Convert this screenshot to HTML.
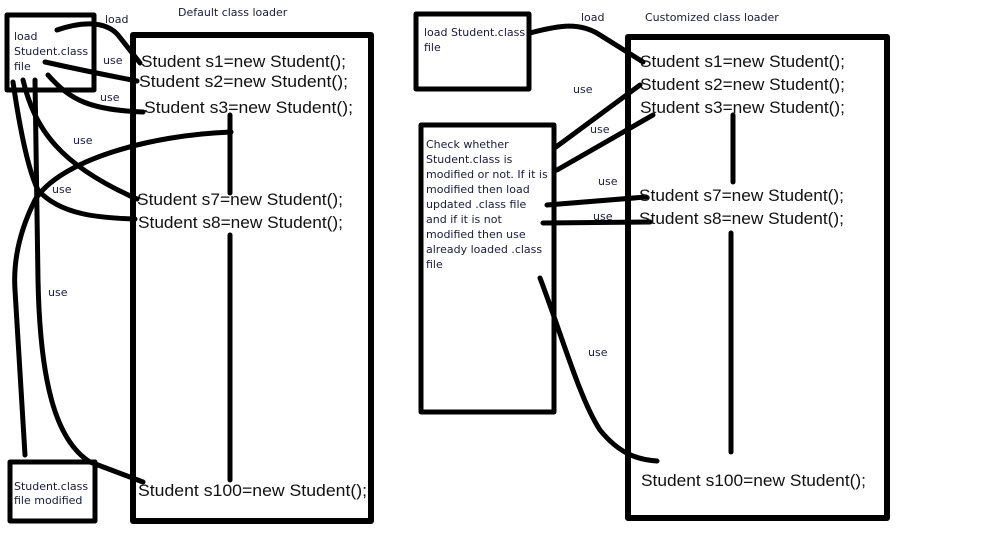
<!DOCTYPE html>
<html><head><meta charset="utf-8"><style>
html,body{margin:0;padding:0;background:#fff;}
svg{display:block;}
.b{font-family:"Liberation Sans",sans-serif;font-size:17px;fill:#111;}
.s{font-family:"DejaVu Sans","Liberation Sans",sans-serif;font-size:11px;fill:#1a1a3a;}
</style></head><body>
<svg width="1000" height="557" viewBox="0 0 1000 557" xmlns="http://www.w3.org/2000/svg">
<g fill="none" stroke="#000" stroke-width="5" stroke-linecap="round" stroke-linejoin="round">
<rect x="7" y="15" width="87" height="75"/>
<rect x="133" y="35" width="238" height="486" stroke-width="6"/>
<rect x="10" y="462" width="85" height="59"/>
<rect x="416" y="14" width="113" height="75"/>
<rect x="421" y="125" width="133" height="287"/>
<rect x="628" y="37" width="259" height="481" stroke-width="6"/>
<!-- left connectors -->
<path d="M57,30 C80,22 105,20 118,35 L140,63"/>
<path d="M45,62 Q90,72 137,81"/>
<path d="M48,75 C70,100 90,110 143,112"/>
<path d="M13,82 C20,130 28,170 38,190 C60,215 100,218 135,219"/>
<path d="M23,80 C35,130 60,165 137,199"/>
<path d="M35,80 L38,280 C40,380 55,440 90,462 L143,482"/>
<path d="M231,132 C150,135 60,160 35,200 C20,230 13,260 15,290 L25,455"/>
<path d="M230,115 L230,193"/>
<path d="M230,235 L230,480"/>
<!-- right connectors -->
<path d="M530,33 C560,25 580,22 600,35 L643,62"/>
<path d="M556,147 L640,85"/>
<path d="M557,170 L653,115"/>
<path d="M547,205 L646,197"/>
<path d="M543,223 L650,222"/>
<path d="M540,278 C560,330 580,400 600,430 C620,455 640,460 657,461"/>
<path d="M733,115 L733,182"/>
<path d="M731,233 L731,452"/>
</g>
<text class="b" x="141" y="67" textLength="205" lengthAdjust="spacingAndGlyphs">Student s1=new Student();</text>
<text class="b" x="139" y="87" textLength="209" lengthAdjust="spacingAndGlyphs">Student s2=new  Student();</text>
<text class="b" x="144" y="113" textLength="209" lengthAdjust="spacingAndGlyphs">Student s3=new  Student();</text>
<text class="b" x="137" y="205" textLength="206" lengthAdjust="spacingAndGlyphs">Student s7=new Student();</text>
<text class="b" x="138" y="228" textLength="205" lengthAdjust="spacingAndGlyphs">Student s8=new Student();</text>
<text class="b" x="138" y="496" textLength="229" lengthAdjust="spacingAndGlyphs">Student s100=new  Student();</text>
<text class="b" x="640" y="67" textLength="205" lengthAdjust="spacingAndGlyphs">Student s1=new Student();</text>
<text class="b" x="640" y="90" textLength="205" lengthAdjust="spacingAndGlyphs">Student s2=new Student();</text>
<text class="b" x="640" y="113" textLength="205" lengthAdjust="spacingAndGlyphs">Student s3=new Student();</text>
<text class="b" x="639" y="201" textLength="205" lengthAdjust="spacingAndGlyphs">Student s7=new Student();</text>
<text class="b" x="639" y="224" textLength="205" lengthAdjust="spacingAndGlyphs">Student s8=new Student();</text>
<text class="b" x="641" y="486" textLength="225" lengthAdjust="spacingAndGlyphs">Student s100=new Student();</text>
<g class="s">
<text x="178" y="16">Default class loader</text>
<text x="105" y="23">load</text>
<text x="103" y="64">use</text>
<text x="100" y="101">use</text>
<text x="73" y="144">use</text>
<text x="52" y="193">use</text>
<text x="48" y="296">use</text>
<text x="14" y="40">load</text>
<text x="14" y="55">Student.class</text>
<text x="14" y="70">file</text>
<text x="14" y="490">Student.class</text>
<text x="14" y="504">file modified</text>
<text x="581" y="21">load</text>
<text x="645" y="21">Customized class loader</text>
<text x="573" y="93">use</text>
<text x="590" y="133">use</text>
<text x="598" y="185">use</text>
<text x="593" y="220">use</text>
<text x="588" y="356">use</text>
<text x="424" y="36">load Student.class</text>
<text x="424" y="51">file</text>
<text x="426" y="148">Check whether</text>
<text x="426" y="163">Student.class is</text>
<text x="426" y="178">modified or not. If it is</text>
<text x="426" y="193">modified then load</text>
<text x="426" y="208">updated .class file</text>
<text x="426" y="223">and if it is not</text>
<text x="426" y="238">modified then use</text>
<text x="426" y="253">already loaded .class</text>
<text x="426" y="268">file</text>
</g>
</svg>
</body></html>
